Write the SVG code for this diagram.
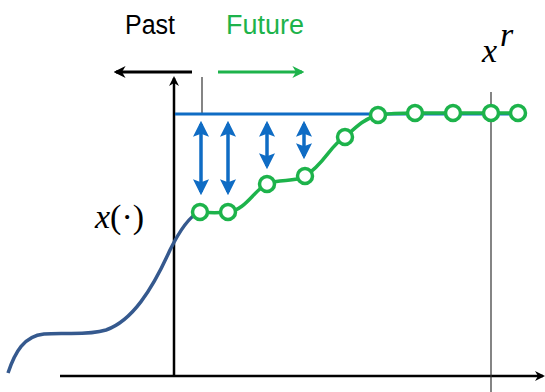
<svg xmlns="http://www.w3.org/2000/svg" width="545" height="392" viewBox="0 0 545 392">
<style>
.axis{stroke:#000;stroke-width:2.5;fill:none}
.thin{stroke:#333;stroke-width:1.2;fill:none}
.blue{stroke:#0f6cc4;stroke-width:3;fill:none}
.dbl{stroke:#0f6cc4;stroke-width:3.5;fill:none;marker-start:url(#ba);marker-end:url(#ba)}
.green{stroke:#1db34b;stroke-width:3.5;fill:none}
.pt{stroke:#1db34b;stroke-width:3.5;fill:#fff}
.lbl{font-family:"Liberation Sans",Arial,sans-serif;font-size:27px}
.math{font-family:"Liberation Serif","Times New Roman",serif;font-size:34px}
</style>
<defs>
<marker id="ba" viewBox="0 0 10 10" refX="8" refY="5" markerWidth="4.6" markerHeight="4.6" orient="auto-start-reverse" markerUnits="strokeWidth">
<path d="M0,0 L10,5 L0,10 L2,5 Z" fill="#0f6cc4"/>
</marker>
<marker id="ka" viewBox="0 0 10 10" refX="8" refY="5" markerWidth="4" markerHeight="4" orient="auto" markerUnits="strokeWidth">
<path d="M0,0 L10,5 L0,10 L3,5 Z" fill="#000"/>
</marker>
<marker id="ga" viewBox="0 0 10 10" refX="8" refY="5" markerWidth="4" markerHeight="4" orient="auto" markerUnits="strokeWidth">
<path d="M0,0 L10,5 L0,10 L3,5 Z" fill="#1db34b"/>
</marker>
</defs>
<rect width="545" height="392" fill="#fff"/>
<g id="axes">
<line class="axis" x1="60" y1="376" x2="543" y2="376" marker-end="url(#ka)"/>
<line class="axis" x1="174" y1="376" x2="174" y2="78" marker-end="url(#ka)"/>
<line class="thin" x1="202" y1="77" x2="202" y2="114"/>
<line class="thin" x1="491" y1="92" x2="491" y2="392"/>
</g>
<g id="labels">
<text class="lbl" x="125" y="34" fill="#000" textLength="50" lengthAdjust="spacingAndGlyphs">Past</text>
<text class="lbl" x="226" y="34" fill="#1db34b" textLength="78" lengthAdjust="spacingAndGlyphs">Future</text>
<text class="math" x="482" y="62" font-style="italic">x</text>
<text class="math" x="500" y="46" font-size="18" font-style="italic">r</text>
<text class="math" x="95" y="228"><tspan font-style="italic">x</tspan>(·)</text>
</g>
<g id="connectors">
<line x1="192" y1="72" x2="116" y2="72" stroke="#000" stroke-width="3" marker-end="url(#ka)"/>
<line x1="218" y1="72" x2="302" y2="72" stroke="#1db34b" stroke-width="3" marker-end="url(#ga)"/>
<line class="blue" x1="175" y1="114" x2="527" y2="114"/>
<line class="dbl" x1="201" y1="124" x2="201" y2="192"/>
<line class="dbl" x1="228" y1="124" x2="228" y2="192"/>
<line class="dbl" x1="267" y1="124" x2="267" y2="166"/>
<line class="dbl" x1="304" y1="124" x2="304" y2="156"/>
</g>
<g id="past-curve">
<path d="M8,373 C15,352 24,336 44,334 C64,332 86,336 106,330 C132,321 152,290 170,250 C180,230 189,217 198,213" stroke="#35598e" stroke-width="3.5" fill="none"/>
</g>
<g id="future-curve">
<path class="green" d="M200,212 C212,213 218,213 228,212 C246,210 254,190 267,184 C280,178 294,183 305,176 C325,164 330,145 345,137 C356,127 365,118 378,115 C392,113 405,113 415,113 L518,113"/>
<circle class="pt" cx="200" cy="212" r="7.5"/>
<circle class="pt" cx="228" cy="212" r="7.5"/>
<circle class="pt" cx="267" cy="184" r="7.5"/>
<circle class="pt" cx="305" cy="176" r="7.5"/>
<circle class="pt" cx="345" cy="137" r="7.5"/>
<circle class="pt" cx="378" cy="115" r="7.5"/>
<circle class="pt" cx="415" cy="113" r="7.5"/>
<circle class="pt" cx="453" cy="113" r="7.5"/>
<circle class="pt" cx="491" cy="113" r="7.5"/>
<circle class="pt" cx="518" cy="113" r="7.5"/>
</g>
</svg>
